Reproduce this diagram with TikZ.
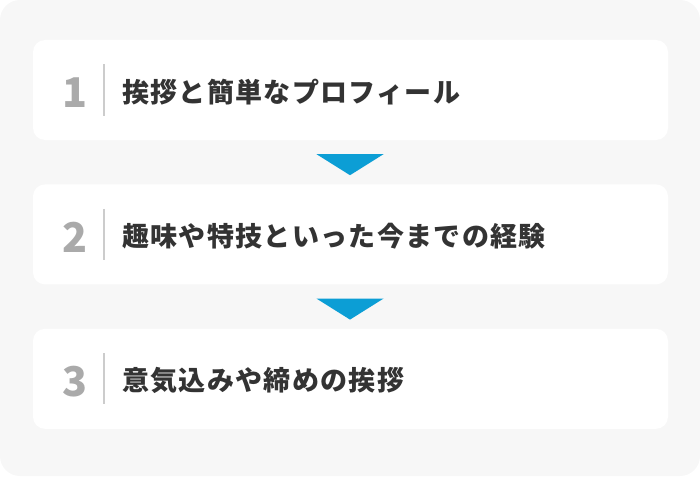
\documentclass[tikz,border=0pt]{standalone}
\usepackage{fontspec}
\newfontfamily\jpfont{Noto Sans CJK JP}[LetterSpace=5]
\newfontfamily\numfont{Noto Sans CJK JP}
\usetikzlibrary{positioning,calc}
\definecolor{pagebg}{HTML}{F7F7F7}
\definecolor{stepink}{HTML}{333333}
\definecolor{numink}{HTML}{AAAAAA}
\definecolor{rulegray}{HTML}{CCCCCC}
\definecolor{arrowblue}{HTML}{0C9ED5}
\begin{document}
\begin{tikzpicture}[
    stepbox/.style={rectangle, rounded corners=12pt, fill=white, minimum width=635pt, minimum height=100pt, inner sep=0pt},
    stepnum/.style={font=\numfont\bfseries\fontsize{41pt}{42pt}\selectfont, text=numink, inner sep=0pt},
    steptext/.style={font=\jpfont\bfseries\fontsize{27pt}{30pt}\selectfont, text=stepink, anchor=west, inner sep=0pt},
    divider/.style={draw=rulegray, line width=1.5pt},
    arrowhead/.style={fill=arrowblue}
]
\useasboundingbox (0,0) rectangle (700pt,-476pt);
\fill[pagebg, rounded corners=20pt] (0,0) rectangle (700pt,-476pt);

% Steps
\node[stepbox] (box1) at (350.5pt,-90pt) {};
\node[stepbox, below=44pt of box1] (box2) {};
\node[stepbox, below=44pt of box2] (box3) {};

% Numbers, dividers and labels
\foreach \i/\txt in {1/挨拶と簡単なプロフィール, 2/趣味や特技といった今までの経験, 3/意気込みや締めの挨拶} {
    \node[stepnum] (num\i) at ($(box\i.west)+(42.5pt,-3pt)$) {\i};
    \coordinate (rtop\i) at ($(box\i.west)+(71pt,25.5pt)$);
    \coordinate (rbot\i) at ($(box\i.west)+(71pt,-25.5pt)$);
    \draw[divider] (rtop\i) -- (rbot\i);
    \node[steptext] (label\i) at ($(box\i.west)+(89pt,-2pt)$) {\txt};
}

% Arrows between steps
\foreach \a/\b in {1/2, 2/3} {
    \coordinate (tipL\a) at ($(box\a.south)+(-34pt,-14pt)$);
    \coordinate (tipR\a) at ($(box\a.south)+(33pt,-14pt)$);
    \coordinate (tipB\a) at ($(box\a.south)+(-0.5pt,-35pt)$);
    \fill[arrowhead] (tipL\a) -- (tipR\a) -- (tipB\a) -- cycle;
}

\end{tikzpicture}
\end{document}
